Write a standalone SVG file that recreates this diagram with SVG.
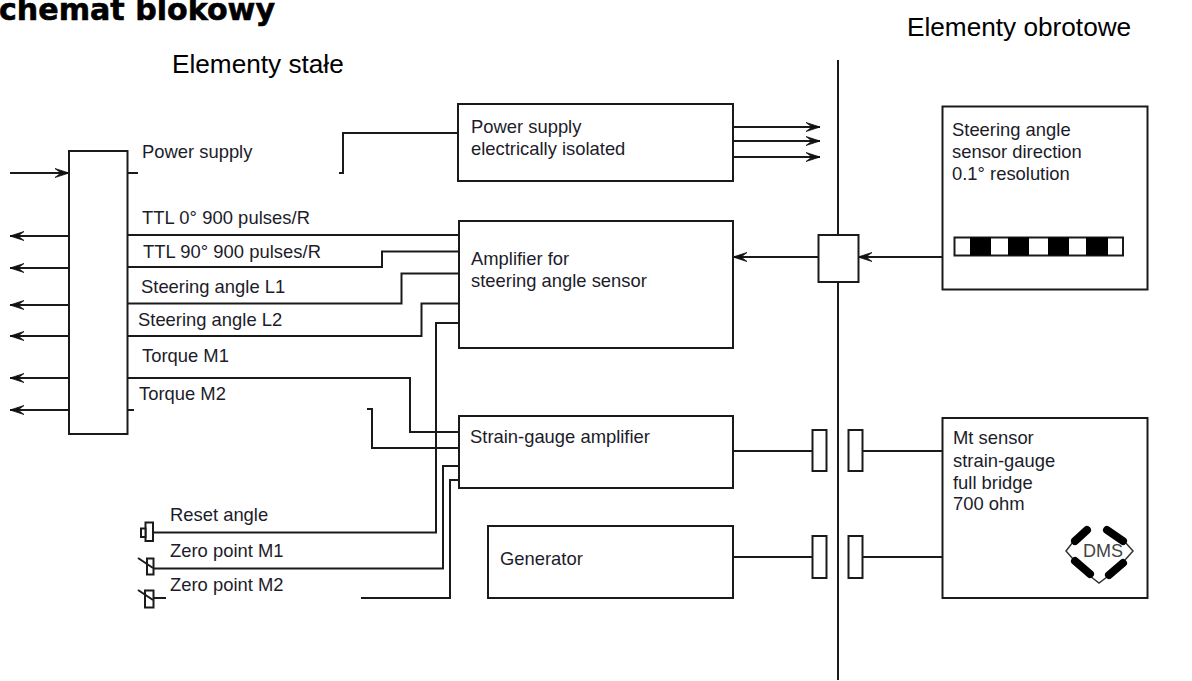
<svg xmlns="http://www.w3.org/2000/svg" width="1192" height="681" viewBox="0 0 1192 681">
<defs>
<marker id="arr" markerUnits="userSpaceOnUse" markerWidth="20" markerHeight="12" refX="16" refY="6" orient="auto" overflow="visible">
<path d="M2,1.5 L8,6 L2,10.5 L16,6 Z" fill="#111" stroke="#111" stroke-width="0.8" stroke-linejoin="round"/>
</marker>
</defs>
<style>
.l{fill:none;stroke:#1a1a1a;stroke-width:2}
.b{fill:#fff;stroke:#1a1a1a;stroke-width:2}
.a{marker-end:url(#arr)}
text{font-family:"Liberation Sans",Arial,sans-serif;fill:#1c1c2a;font-size:18.400px}
.h{font-size:26.200px;fill:#000}
.t{font-family:"DejaVu Sans",sans-serif;font-size:31px;font-weight:bold;fill:#000;stroke:#000;stroke-width:.6}
</style>
<rect width="1192" height="681" fill="#fff"/>
<text class="t" x="-1" y="20" textLength="276" lengthAdjust="spacingAndGlyphs">chemat blokowy</text>
<text class="h" x="172" y="73">Elementy stałe</text>
<text class="h" x="907" y="36">Elementy obrotowe</text>

<g id="connectors">
<path class="l" d="M838,60V680"/>
<path class="l a" d="M10,173H69"/>
<path class="l a" d="M69,236H10"/>
<path class="l a" d="M69,268H10"/>
<path class="l a" d="M69,305H10"/>
<path class="l a" d="M69,336H10"/>
<path class="l a" d="M69,378H10"/>
<path class="l a" d="M69,410H10"/>
<path class="l" d="M127,173H138"/>
<path class="l" d="M127,410H134"/>
<path class="l" d="M339,173H343V133H458"/>
<path class="l" d="M127,235H459"/>
<path class="l" d="M127,267H382V251.500H459"/>
<path class="l" d="M127,303.500H401.500V273.500H459"/>
<path class="l" d="M127,336H421.500V303.500H459"/>
<path class="l" d="M127,378H410V432H459"/>
<path class="l" d="M367,409H372V448H459"/>
<path class="l" d="M459,323H436V532.500H153"/>
<path class="l" d="M459,466H443V568.500H153"/>
<path class="l" d="M459,480H450V598H361"/>
<path class="l a" d="M733,127H820"/>
<path class="l a" d="M733,141H820"/>
<path class="l a" d="M733,157H820"/>
<path class="l a" d="M818,257H733"/>
<path class="l a" d="M943,257H858"/>
<path class="l" d="M733,451H812"/>
<path class="l" d="M862,451H942"/>
<path class="l" d="M733,557H812"/>
<path class="l" d="M862,557H942"/>
<path class="l" d="M153,598H166"/>
</g>

<g id="interface-box"><rect class="b" x="69" y="151" width="58.500" height="283"/></g>

<g id="label-power"><text x="142" y="158">Power supply</text></g>
<g id="label-ttl0"><text x="142" y="224" textLength="168">TTL 0° 900 pulses/R</text></g>
<g id="label-ttl90"><text x="143" y="258" textLength="178">TTL 90° 900 pulses/R</text></g>
<g id="label-l1"><text x="141" y="292.500">Steering angle L1</text></g>
<g id="label-l2"><text x="138" y="326">Steering angle L2</text></g>
<g id="label-m1"><text x="142" y="362">Torque M1</text></g>
<g id="label-m2"><text x="139" y="400">Torque M2</text></g>

<g id="power-supply"><rect class="b" x="458" y="104" width="275" height="77"/>
<text x="471" y="133">Power supply</text><text x="471" y="155">electrically isolated</text></g>
<g id="amplifier"><rect class="b" x="459" y="221" width="274" height="127"/>
<text x="471" y="264.500">Amplifier for</text><text x="471" y="286.500">steering angle sensor</text></g>
<g id="strain-amp"><rect class="b" x="459" y="416" width="274" height="72"/>
<text x="470" y="443">Strain-gauge amplifier</text></g>
<g id="generator"><rect class="b" x="488" y="526" width="245" height="72"/>
<text x="500" y="565">Generator</text></g>

<g id="rotor-coupler"><rect class="b" x="818.500" y="235" width="40" height="47"/></g>
<g id="coupler-1a"><rect class="b" x="812.500" y="430" width="14" height="41"/></g>
<g id="coupler-1b"><rect class="b" x="848.500" y="430" width="14" height="41"/></g>
<g id="coupler-2a"><rect class="b" x="812.500" y="536" width="14" height="42"/></g>
<g id="coupler-2b"><rect class="b" x="848.500" y="536" width="14" height="42"/></g>

<g id="steering-sensor"><rect class="b" x="942.500" y="106.500" width="205" height="183"/>
<text x="952" y="136">Steering angle</text><text x="952" y="158">sensor direction</text><text x="952" y="180">0.1° resolution</text>
<rect class="b" x="954.500" y="237.500" width="168.500" height="18"/>
<path fill="#000" d="M970,237.500h21v18h-21zM1008,237.500h21v18h-21zM1048,237.500h21v18h-21zM1086,237.500h22v18h-22z"/></g>

<g id="mt-sensor"><rect class="b" x="942.500" y="418" width="205" height="180"/>
<text x="953" y="444">Mt sensor</text><text x="953" y="466.500">strain-gauge</text><text x="953" y="488.500">full bridge</text><text x="953" y="510">700 ohm</text>
<path fill="none" stroke="#333" stroke-width="1.500" d="M1073,542L1066,551L1073,559M1125,542L1133,551L1125,560M1090,576L1099,583L1107,577"/>
<path fill="none" stroke="#000" stroke-width="8" stroke-linecap="round" d="M1075,541L1087,530M1107,530L1123,541M1075,561L1090,574M1109,575L1123,563"/>
<text x="1083" y="557" style="font-size:18px;fill:#444">DMS</text></g>

<g id="reset-switch"><rect class="b" x="145.500" y="522.500" width="7.500" height="18.500"/><rect class="b" x="141" y="528.500" width="4.500" height="8.500"/></g>
<g id="zero-m1-switch"><rect class="b" x="147" y="558.500" width="6.500" height="16"/><path class="l" d="M138,558L153,568"/></g>
<g id="zero-m2-switch"><rect class="b" x="145" y="590.500" width="8.500" height="17"/><path class="l" d="M138,590L153,600"/></g>
<g id="label-reset"><text x="170" y="520.500">Reset angle</text></g>
<g id="label-z1"><text x="170" y="557">Zero point M1</text></g>
<g id="label-z2"><text x="170" y="591">Zero point M2</text></g>
</svg>
